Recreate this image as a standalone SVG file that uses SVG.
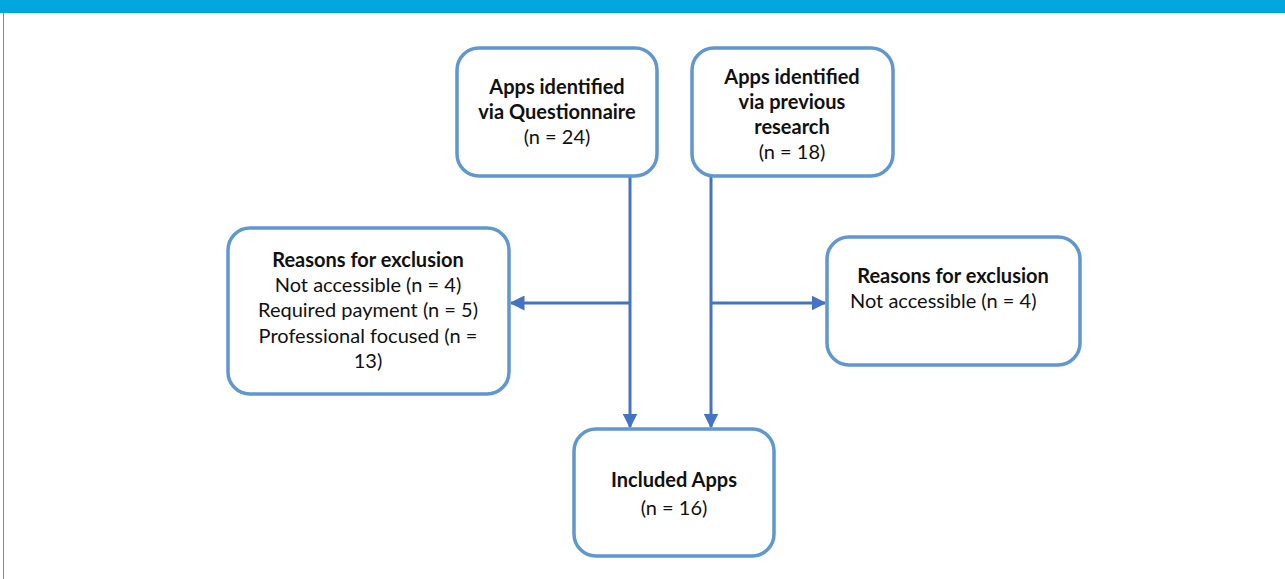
<svg xmlns="http://www.w3.org/2000/svg" width="1285" height="579" viewBox="0 0 1285 579">
<style>
.box{fill:#fff;stroke:#5f97d0;stroke-width:3.5}
.t{font-family:Lato,"Open Sans","Liberation Sans",sans-serif;font-size:20px;fill:#111;text-anchor:middle}
.b{font-weight:bold}
.c{stroke:#4472c4;stroke-width:3;fill:none}
</style>
<defs>
<marker id="ah" viewBox="0 0 10 10" refX="9" refY="5" markerWidth="5" markerHeight="5" orient="auto" markerUnits="strokeWidth">
<path d="M0,0 L10,5 L0,10 z" fill="#4472c4"/>
</marker>
</defs>
<rect x="0" y="0" width="1285" height="579" fill="#fff"/>
<rect x="0" y="0" width="1285" height="13" fill="#00a6dc"/>
<line x1="3.5" y1="13" x2="3.5" y2="579" stroke="#29abe2" stroke-width="1"/>
<g id="connectors">
<line class="c" x1="630" y1="176" x2="630" y2="427" marker-end="url(#ah)"/>
<line class="c" x1="711" y1="176" x2="711" y2="427" marker-end="url(#ah)"/>
<line class="c" x1="630" y1="303" x2="511" y2="303" marker-end="url(#ah)"/>
<line class="c" x1="711" y1="303" x2="825" y2="303" marker-end="url(#ah)"/>
</g>
<g id="n1">
<rect class="box" x="457" y="48" width="200" height="128" rx="22"/>
<text class="t b" x="557" y="94">Apps identified</text>
<text class="t b" x="557" y="119">via Questionnaire</text>
<text class="t" x="557" y="144">(n = 24)</text>
</g>
<g id="n2">
<rect class="box" x="692" y="48" width="201" height="128" rx="22"/>
<text class="t b" x="792" y="84">Apps identified</text>
<text class="t b" x="792" y="109">via previous</text>
<text class="t b" x="792" y="134">research</text>
<text class="t" x="792" y="159">(n = 18)</text>
</g>
<g id="n3">
<rect class="box" x="228" y="228" width="281" height="166" rx="22"/>
<text class="t b" x="368" y="267">Reasons for exclusion</text>
<text class="t" x="368" y="292">Not accessible (n = 4)</text>
<text class="t" x="368" y="317">Required payment (n = 5)</text>
<text class="t" x="368" y="343">Professional focused (n =</text>
<text class="t" x="368" y="368">13)</text>
</g>
<g id="n4">
<rect class="box" x="827" y="237" width="253" height="128" rx="22"/>
<text class="t b" x="953" y="283">Reasons for exclusion</text>
<text class="t" x="850" y="308" style="text-anchor:start">Not accessible (n = 4)</text>
</g>
<g id="n5">
<rect class="box" x="574" y="429" width="200" height="127" rx="22"/>
<text class="t b" x="674" y="487">Included Apps</text>
<text class="t" x="674" y="515">(n = 16)</text>
</g>
</svg>
